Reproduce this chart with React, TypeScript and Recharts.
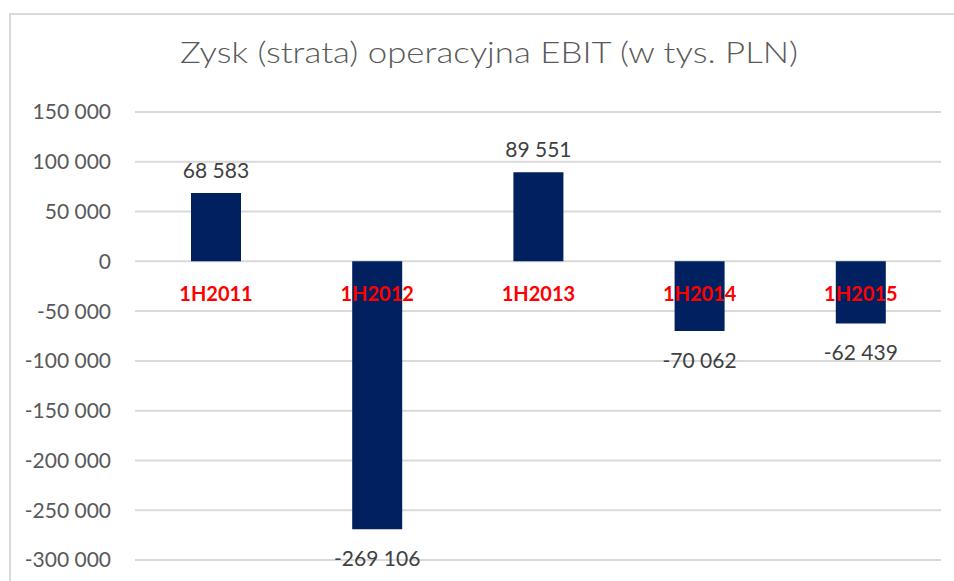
import { BarChart, Bar, XAxis, YAxis, CartesianGrid, LabelList } from 'recharts';

const periods = ['1H2011', '1H2012', '1H2013', '1H2014', '1H2015'];
const ebit = [68583, -269106, 89551, -70062, -62439];
const yTicks = [150000, 100000, 50000, 0, -50000, -100000, -150000, -200000, -250000, -300000];

const data = periods.map((period, i) => ({ period, ebit: ebit[i] }));

const FONT = 'Lato, "Open Sans", sans-serif';

function fmt(v: number) {
  const s = Math.abs(v).toString().replace(/\B(?=(\d{3})+(?!\d))/g, ' ');
  return v < 0 ? '-' + s : s;
}

// value label beyond the bar end + red category label just under the zero line
function BarLabels(props: any) {
  const { x, y, width, height, value, index } = props;
  const a = Number(y);
  const b = Number(y) + Number(height);
  const lo = Math.min(a, b);
  const hi = Math.max(a, b);
  const zero = value >= 0 ? hi : lo;
  const cx = Number(x) + Number(width) / 2;
  const valueY = value >= 0 ? lo - 24 : hi + 28;
  return (
    <g>
      <text
        x={cx}
        y={valueY}
        textAnchor="middle"
        dominantBaseline="central"
        fill="#404040"
        fontSize={21}
        fontFamily={FONT}
      >
        {fmt(value)}
      </text>
      <text
        x={cx}
        y={zero + 32}
        textAnchor="middle"
        dominantBaseline="central"
        fill="#ff0000"
        fontSize={20}
        fontWeight="bold"
        fontFamily={FONT}
      >
        {periods[index]}
      </text>
    </g>
  );
}

export default function App() {
  return (
    <div style={{ position: 'fixed', left: 0, top: 0, width: 954, height: 581, overflow: 'hidden', background: '#fff' }}>
      <style>{'html, body { margin: 0; overflow: hidden; }'}</style>
      <div style={{ position: 'absolute', left: 0, top: 0 }}>
        <BarChart width={954} height={581} data={data} margin={{ top: 112, right: 13, bottom: 21, left: 0 }}>
          <CartesianGrid vertical={false} stroke="#d9d9d9" strokeWidth={2} />
          <XAxis dataKey="period" hide />
          <YAxis
            width={135}
            domain={[-300000, 150000]}
            ticks={yTicks}
            tickFormatter={fmt}
            axisLine={false}
            tickLine={false}
            tickMargin={18}
            tick={{ fill: '#595959', fontSize: 21, fontFamily: FONT }}
            interval={0}
          />
          <Bar dataKey="ebit" fill="#002060" barSize={50} isAnimationActive={false}>
            <LabelList dataKey="ebit" content={BarLabels} />
          </Bar>
        </BarChart>
      </div>
      <svg width={954} height={100} style={{ position: 'absolute', left: 0, top: 0 }}>
        <text
          x={489}
          y={63}
          textAnchor="middle"
          fontFamily={FONT}
          fontWeight={300}
          fontSize={30}
          fill="#595959"
          textLength={618}
          lengthAdjust="spacingAndGlyphs"
        >
          Zysk (strata) operacyjna EBIT (w tys. PLN)
        </text>
      </svg>
      <div
        style={{
          position: 'absolute',
          left: 9,
          top: 13,
          width: 1000,
          height: 700,
          borderLeft: '2px solid #d9d9d9',
          borderTop: '2px solid #d9d9d9',
          pointerEvents: 'none',
        }}
      />
    </div>
  );
}
